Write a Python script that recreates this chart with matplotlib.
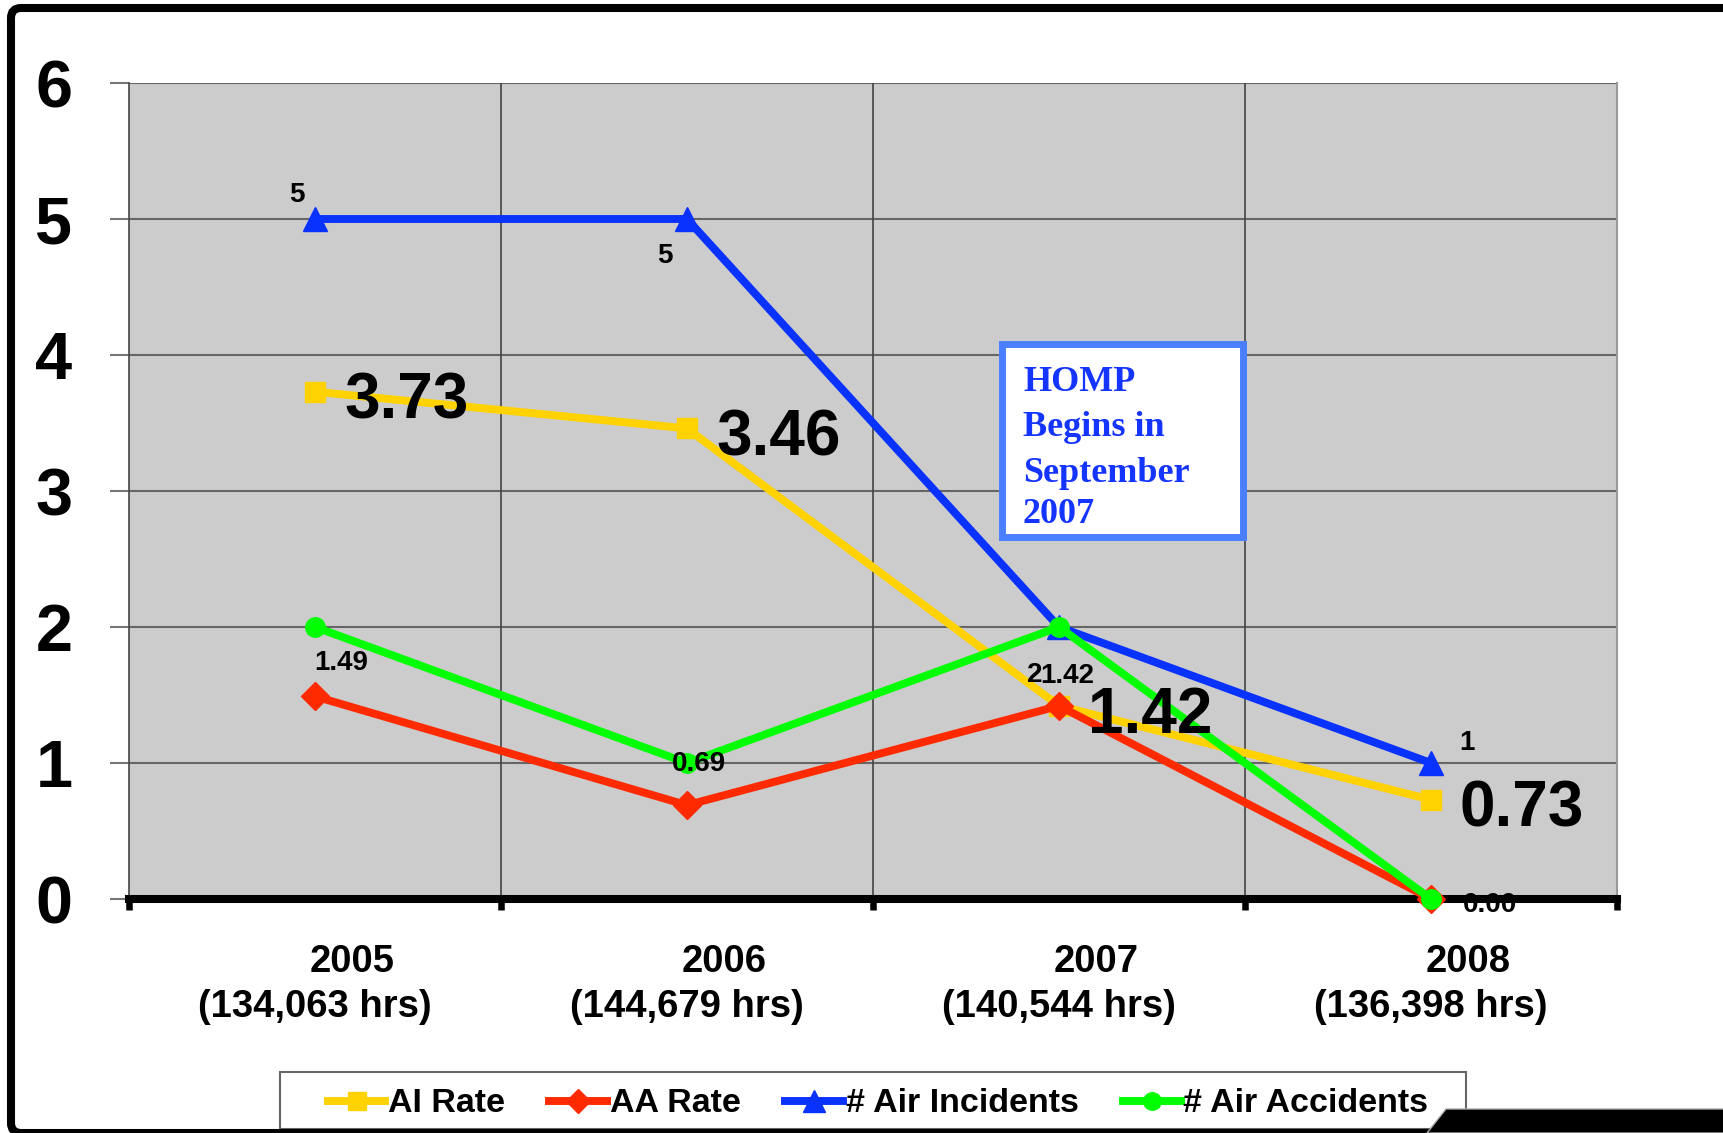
import matplotlib
matplotlib.use("Agg")
import matplotlib.pyplot as plt
from matplotlib.patches import Rectangle, Polygon, FancyBboxPatch
from matplotlib.transforms import IdentityTransform

# ---------------- data ----------------
years = ["2005", "2006", "2007", "2008"]
hours = ["(134,063 hrs)", "(144,679 hrs)", "(140,544 hrs)", "(136,398 hrs)"]
ai_rate = [3.73, 3.46, 1.42, 0.73]
aa_rate = [1.49, 0.69, 1.42, 0.00]
air_incidents = [5, 5, 2, 1]
air_accidents = [2, 1, 2, 0]
yticks = [0, 1, 2, 3, 4, 5, 6]
series_names = ["AI Rate", "AA Rate", "# Air Incidents", "# Air Accidents"]
homp_lines = ["HOMP", "Begins in", "September", "2007"]

# ---------------- style ----------------
W, H = 1724, 1133
DPI = 100
SANS = "Liberation Sans"
SERIF = "Liberation Serif"
C_AI = "#FFD200"
C_AA = "#FF2A00"
C_INC = "#0A32FF"
C_ACC = "#00FF00"

fig = plt.figure(figsize=(W / DPI, H / DPI), dpi=DPI)
fig.patch.set_facecolor("white")

def fx(x):
    return x / W

def fy(y):
    return 1 - y / H

ax = fig.add_axes([fx(129), fy(899), 1488 / W, 816 / H])
ax.set_facecolor("#CCCCCC")

x = list(range(len(years)))
lw = 5.7
ax.plot(x, ai_rate, color=C_AI, lw=lw, marker="s", ms=14, mew=1, mec=C_AI,
        clip_on=False, zorder=3, label=series_names[0])
ax.plot(x, aa_rate, color=C_AA, lw=lw, marker="D", ms=14, mew=1, mec=C_AA,
        clip_on=False, zorder=3, label=series_names[1])
ax.plot(x, air_incidents, color=C_INC, lw=lw, marker="^", ms=17, mew=1, mec=C_INC,
        clip_on=False, zorder=3, label=series_names[2])
ax.plot(x, air_accidents, color=C_ACC, lw=lw, marker="o", ms=14, mew=1, mec=C_ACC,
        clip_on=False, zorder=3, label=series_names[3])

ax.set_xlim(-0.5, len(years) - 0.5)
ax.set_ylim(0, 6)
ax.set_yticks(yticks)
ax.set_yticklabels([str(t) for t in yticks], fontsize=48, fontweight="bold", family=SANS)
ax.tick_params(axis="y", direction="out", length=13.7, width=1.5, color="#777777", pad=27)

bounds = [i - 0.5 for i in range(len(years) + 1)]
ax.set_xticks(bounds)
ax.set_xticklabels([])
ax.tick_params(axis="x", direction="out", length=8, width=4.7, color="black")

# grid
for t in yticks[1:]:
    ax.axhline(t, color="#666666", lw=1.5, zorder=1)
for b in bounds[1:-1]:
    ax.axvline(b, color="#444444", lw=1.2, zorder=1)

ax.spines["top"].set_visible(False)
ax.spines["left"].set_color("#444444")
ax.spines["left"].set_linewidth(1.2)
ax.spines["right"].set_color("#999999")
ax.spines["right"].set_linewidth(1.5)
ax.spines["bottom"].set_color("black")
ax.spines["bottom"].set_linewidth(5.8)

# category labels (two lines)
for i in x:
    ax.annotate(years[i], (i, 0), xycoords=("data", "axes fraction"),
                xytext=(37, -73), textcoords="offset pixels",
                ha="center", va="baseline", fontsize=27.5, fontweight="bold",
                family=SANS, annotation_clip=False)
    ax.annotate(hours[i], (i, 0), xycoords=("data", "axes fraction"),
                xytext=(0, -118), textcoords="offset pixels",
                ha="center", va="baseline", fontsize=27.5, fontweight="bold",
                family=SANS, annotation_clip=False)

# data labels
def lab(txt, xi, yi, dx, dy, size=20, ha="center"):
    ax.annotate(txt, (xi, yi), xytext=(dx, dy), textcoords="offset pixels",
                ha=ha, va="baseline", fontsize=size, fontweight="bold",
                family=SANS, annotation_clip=False, zorder=5)

for i, v in enumerate(ai_rate):
    lab(f"{v:.2f}", i, v, 29, -27, size=46, ha="left")

inc_off = [(-18, 17), (-22, -44), (-24, -55), (36, 13)]
for i, v in enumerate(air_incidents):
    lab(f"{v}", i, v, *inc_off[i])

aa_off = [(26, 26), (12, 34), (8, 23), (59, -13)]
for i, v in enumerate(aa_rate):
    lab(f"{v:.2f}", i, v, *aa_off[i])

# HOMP box
fig.patches.append(Rectangle((fx(1002.5), fy(536.5)), (1243.5 - 1002.5) / W,
                             (536.5 - 343.5) / H, transform=fig.transFigure,
                             facecolor="white", edgecolor="#4A80FF", lw=5, zorder=10))
for line, base in zip(homp_lines, [391, 436, 482, 523]):
    fig.text(fx(1023), fy(base), line, ha="left", va="baseline", fontsize=26,
             fontweight="bold", family=SERIF, color="#1434FF", zorder=11)

# legend
fig.patches.append(Rectangle((fx(280), fy(1129)), (1466 - 280) / W, (1129 - 1072) / H,
                             transform=fig.transFigure, facecolor="white",
                             edgecolor="#666666", lw=1.5, zorder=0))
leg = fig.legend(loc="center", bbox_to_anchor=(fx(878), fy(1104)), ncol=4,
                 frameon=False, prop={"family": SANS, "weight": "bold", "size": 24.5},
                 handlelength=1.7, handletextpad=0.08, columnspacing=1.3,
                 markerscale=0.9)

# outer frame
frame = FancyBboxPatch((11, 0), 1800, 1133 - 8, boxstyle="round,pad=0,rounding_size=10",
                       transform=IdentityTransform(), facecolor="none",
                       edgecolor="black", lw=5.8, zorder=20)
fig.patches.append(frame)
corner = Polygon([(1427, 0), (1446, 1133 - 1109), (W, 1133 - 1109), (W, 0)],
                 closed=True, transform=IdentityTransform(), facecolor="black",
                 edgecolor="#AAAAAA", lw=1, zorder=21)
fig.patches.append(corner)

fig.savefig("out.png", dpi=DPI)
